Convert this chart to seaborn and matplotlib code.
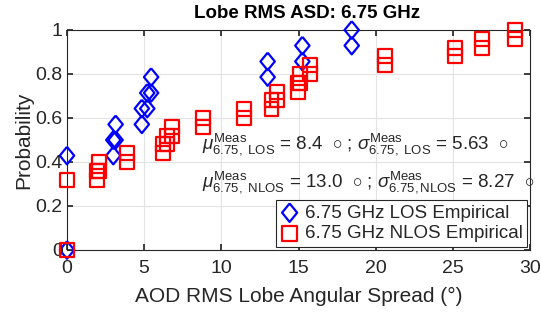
import matplotlib
matplotlib.use("Agg")
import matplotlib.pyplot as plt
import seaborn as sns
import pandas as pd

# Empirical CDF markers (x = angular spread in degrees, p = probability)
los_x = [0, 0, 3.0, 3.0, 3.15, 3.15, 4.85, 4.85, 5.2, 5.2, 5.45, 5.45,
         13.0, 13.0, 15.25, 15.25, 18.45, 18.45]
los_p = [0.0, 0.429, 0.429, 0.5, 0.5, 0.571, 0.571, 0.643, 0.643, 0.714,
         0.714, 0.786, 0.786, 0.857, 0.857, 0.929, 0.929, 1.0]

nlos_x = [0, 0, 1.95, 1.95, 2.1, 2.1, 3.87, 3.87, 6.2, 6.2, 6.5, 6.5, 6.8, 6.8,
          8.8, 8.8, 11.45, 11.45, 13.25, 13.25, 13.6, 13.6, 14.95, 14.95,
          15.1, 15.1, 15.75, 15.75, 20.6, 20.6, 25.15, 25.15, 26.9, 26.9,
          29.0, 29.0]
nlos_p = [0.0, 0.32, 0.32, 0.36, 0.36, 0.40, 0.40, 0.44, 0.44, 0.48, 0.48, 0.52,
          0.52, 0.56, 0.56, 0.60, 0.60, 0.64, 0.64, 0.68, 0.68, 0.72, 0.72, 0.76,
          0.76, 0.80, 0.80, 0.84, 0.84, 0.88, 0.88, 0.92, 0.92, 0.96, 0.96, 1.0]

x_ticks = [0, 5, 10, 15, 20, 25, 30]
y_ticks = [0, 0.2, 0.4, 0.6, 0.8, 1.0]
y_tick_labels = ["0", "0.2", "0.4", "0.6", "0.8", "1"]

title = "Lobe RMS ASD: 6.75 GHz"
xlabel = "AOD RMS Lobe Angular Spread (°)"
ylabel = "Probability"
los_label = "6.75 GHz LOS Empirical"
nlos_label = "6.75 GHz NLOS Empirical"
ann1 = (r"$\mu^{\mathrm{Meas}}_{\mathrm{6.75,\ LOS}}$ = 8.4  $\circ$ ; "
        r"$\sigma^{\mathrm{Meas}}_{\mathrm{6.75,\ LOS}}$ = 5.63  $\circ$")
ann2 = (r"$\mu^{\mathrm{Meas}}_{\mathrm{6.75,\ NLOS}}$ = 13.0  $\circ$ ; "
        r"$\sigma^{\mathrm{Meas}}_{\mathrm{6.75,NLOS}}$ = 8.27  $\circ$")

sns.set_theme(style="whitegrid")
plt.rcParams["font.family"] = ["Liberation Sans", "DejaVu Sans"]
plt.rcParams["mathtext.fontset"] = "custom"
plt.rcParams["mathtext.rm"] = "Liberation Sans"
plt.rcParams["mathtext.it"] = "Liberation Sans:italic"
plt.rcParams["mathtext.bf"] = "Liberation Sans:bold"

fig = plt.figure(figsize=(5.41, 3.15), dpi=100)
ax = fig.add_axes([67 / 541, 1 - 250 / 315, (530 - 67) / 541, (250 - 30) / 315])

df_los = pd.DataFrame({"x": los_x, "p": los_p})
df_nlos = pd.DataFrame({"x": nlos_x, "p": nlos_p})

diamond = [(0, 1), (0.82, 0), (0, -1), (-0.82, 0), (0, 1)]

sns.scatterplot(data=df_los, x="x", y="p", ax=ax, marker=diamond, s=160,
                facecolor="none", edgecolor="#0000ff", linewidth=1.6,
                label=los_label, zorder=3, clip_on=False)
sns.scatterplot(data=df_nlos, x="x", y="p", ax=ax, marker="s", s=100,
                facecolor="none", edgecolor="#ff0000", linewidth=1.6,
                label=nlos_label, zorder=3, clip_on=False)

ax.set_xlim(0, 30)
ax.set_ylim(0, 1)
ax.set_xticks(x_ticks)
ax.set_yticks(y_ticks)
ax.set_yticklabels(y_tick_labels)
ax.grid(True, color="#e3e3e3", linewidth=0.8)
ax.set_axisbelow(True)
for s in ax.spines.values():
    s.set_color("#262626")
    s.set_linewidth(0.8)
ax.tick_params(axis="both", direction="in", length=4, labelsize=14,
               colors="#262626", top=True, right=True, bottom=True, left=True,
               pad=3)
ax.tick_params(axis="x", pad=7)

ax.set_xlabel(xlabel, fontsize=15, color="#262626", labelpad=7)
ax.set_ylabel(ylabel, fontsize=15, color="#262626", labelpad=2)
ax.set_title(title, fontsize=13.5, fontweight="bold", color="black", pad=9,
             x=0.518)

ax.text(8.75, 0.48, ann1, fontsize=13.5, color="#262626", va="center",
        ha="left", clip_on=False)
ax.text(8.75, 0.31, ann2, fontsize=13.5, color="#262626", va="center",
        ha="left", clip_on=False)

leg = ax.legend(loc="lower right", fontsize=13.5, frameon=True, fancybox=False,
                edgecolor="#262626", framealpha=1, borderpad=0.25,
                handletextpad=0.3, labelspacing=0.2, borderaxespad=0.15,
                handlelength=1.0, markerscale=1.05)
leg.get_frame().set_linewidth(0.8)

fig.savefig("out.png", dpi=100)
